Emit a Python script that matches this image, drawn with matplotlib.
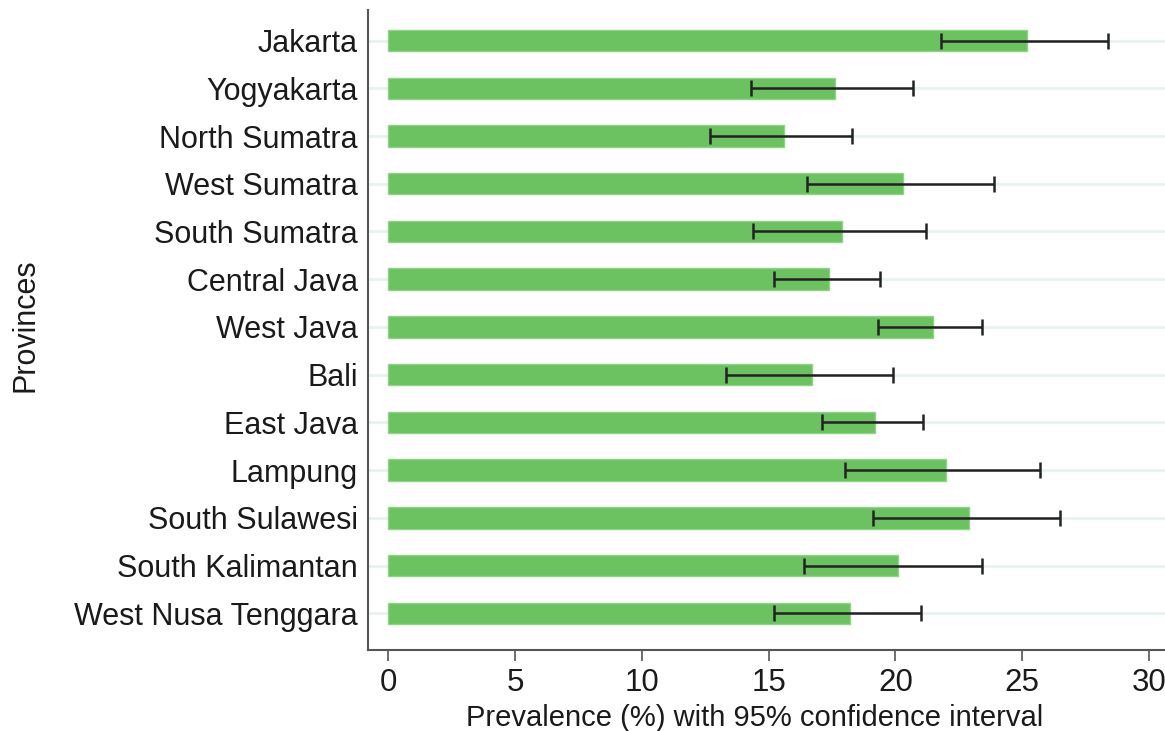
from matplotlib import pyplot as plt
import numpy as np

plt.rcParams['font.family'] = ['Liberation Sans', 'DejaVu Sans']

# data (prevalence % and 95% CI)
provinces = ['Jakarta', 'Yogyakarta', 'North Sumatra', 'West Sumatra', 'South Sumatra',
             'Central Java', 'West Java', 'Bali', 'East Java', 'Lampung',
             'South Sulawesi', 'South Kalimantan', 'West Nusa Tenggara']
prevalence = [25.2, 17.6, 15.6, 20.3, 17.9, 17.4, 21.5, 16.7, 19.2, 22.0, 22.9, 20.1, 18.2]
ci_low = [21.8, 14.3, 12.7, 16.5, 14.4, 15.2, 19.3, 13.3, 17.1, 18.0, 19.1, 16.4, 15.2]
ci_high = [28.4, 20.7, 18.3, 23.9, 21.2, 19.4, 23.4, 19.9, 21.1, 25.7, 26.5, 23.4, 21.0]
x_ticks = [0, 5, 10, 15, 20, 25, 30]

bar_color = '#6cc160'
grid_color = '#e8f1f3'
text_color = '#1a1a1a'

W, H = 1165, 731
fig = plt.figure(figsize=(W / 100, H / 100), dpi=100)
ax = fig.add_axes([0.3156, 0.1108, 0.6844, 0.8755])

n = len(provinces)
ypos = np.arange(n)[::-1]
prev = np.array(prevalence)
lo = prev - np.array(ci_low)
hi = np.array(ci_high) - prev

for y in ypos:
    ax.axhline(y, color=grid_color, lw=2, zorder=0)

ax.barh(ypos, prev, height=0.45, color=bar_color, edgecolor='#8fd485', linewidth=1, zorder=2)
ax.errorbar(prev, ypos, xerr=[lo, hi], fmt='none', ecolor='#222222', elinewidth=1.8,
            capsize=5.5, capthick=1.8, zorder=3)

ax.set_xlim(-0.81, 30.63)
ax.set_ylim(-0.77, 12.64)
ax.set_yticks(ypos)
ax.set_yticklabels(provinces, fontsize=22, color=text_color)
ax.set_xticks(x_ticks)
ax.set_xticklabels([str(t) for t in x_ticks], fontsize=22.5, color=text_color)
ax.tick_params(axis='y', length=0, pad=7)
ax.tick_params(axis='x', length=8, width=1.2, color='#555555', pad=5)

for s in ['top', 'right']:
    ax.spines[s].set_visible(False)
for s in ['left', 'bottom']:
    ax.spines[s].set_color('#555555')
    ax.spines[s].set_linewidth(1.5)

# axis titles placed in figure pixels to match the reference
fig.text(755 / W, 1 - 726 / H, 'Prevalence (%) with 95% confidence interval',
         fontsize=21, color=text_color, ha='center', va='baseline')
fig.text(25 / W, 1 - 325 / H, 'Provinces', fontsize=22, color=text_color,
         rotation=90, ha='center', va='center')

plt.savefig('out.png', dpi=100)
